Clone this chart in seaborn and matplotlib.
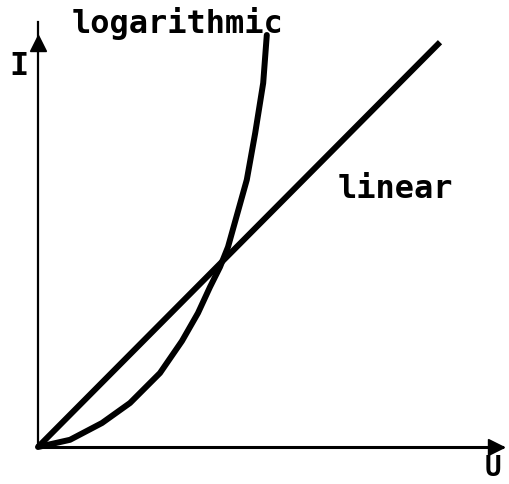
import matplotlib
matplotlib.use("Agg")
import matplotlib.pyplot as plt
import seaborn as sns
import pandas as pd

# Voltage U and current I of the two characteristics
lin_u = [0.0, 10.05]
lin_i = [0.0, 10.12]

log_u = [0.0, 0.8, 1.6, 2.3, 3.05, 3.6, 4.0, 4.3, 4.55, 4.75, 5.22, 5.43, 5.63, 5.72]
log_i = [0.0, 0.18, 0.6, 1.1, 1.85, 2.65, 3.35, 4.0, 4.5, 5.0, 6.68, 7.85, 9.1, 10.3]

labels = {"log": "logarithmic", "lin": "linear", "x": "U", "y": "I"}

sns.set_style("white")
plt.rcParams["font.family"] = ["DejaVu Sans Mono", "DejaVu Sans"]

fig = plt.figure(figsize=(5.10, 4.84), dpi=100)
ax = fig.add_axes([0, 0, 1, 1])
ax.set_xlim(-0.95, 11.8)
ax.set_ylim(-0.925, 11.175)

lin_df = pd.DataFrame({"U": lin_u, "I": lin_i})
log_df = pd.DataFrame({"U": log_u, "I": log_i})
sns.lineplot(data=lin_df, x="U", y="I", ax=ax, color="black", lw=4.3,
             sort=False, solid_capstyle="butt")
sns.lineplot(data=log_df, x="U", y="I", ax=ax, color="black", lw=4.3,
             sort=False, solid_capstyle="round", solid_joinstyle="round")

# Axes drawn as arrows through the origin
for side in ("top", "right"):
    ax.spines[side].set_visible(False)
ax.spines["left"].set_position(("data", 0))
ax.spines["bottom"].set_position(("data", 0))
ax.spines["left"].set_bounds(0, 10.62)
ax.spines["bottom"].set_bounds(0, 11.6)
ax.spines["left"].set_linewidth(1.6)
ax.spines["bottom"].set_linewidth(2.2)
ax.spines["left"].set_color("black")
ax.spines["bottom"].set_color("black")
ax.plot([0], [10.1], marker="^", ms=11, color="black", clip_on=False)
ax.plot([11.45], [0], marker=">", ms=11, color="black", clip_on=False)

ax.set_xticks([])
ax.set_yticks([])
ax.set_xlabel("")
ax.set_ylabel("")

fs = 23
kw = dict(fontsize=fs, fontweight="bold", color="black")
ax.text(0.85, 10.35, labels["log"], ha="left", va="baseline", **kw)
ax.text(7.5, 6.22, labels["lin"], ha="left", va="baseline", **kw)
ax.text(-0.48, 9.3, labels["y"], ha="center", va="baseline", **kw)
ax.text(11.38, -0.88, labels["x"], ha="center", va="bottom", fontsize=20,
        fontweight="bold", color="black")

fig.savefig("out.png", dpi=100, facecolor="white")
